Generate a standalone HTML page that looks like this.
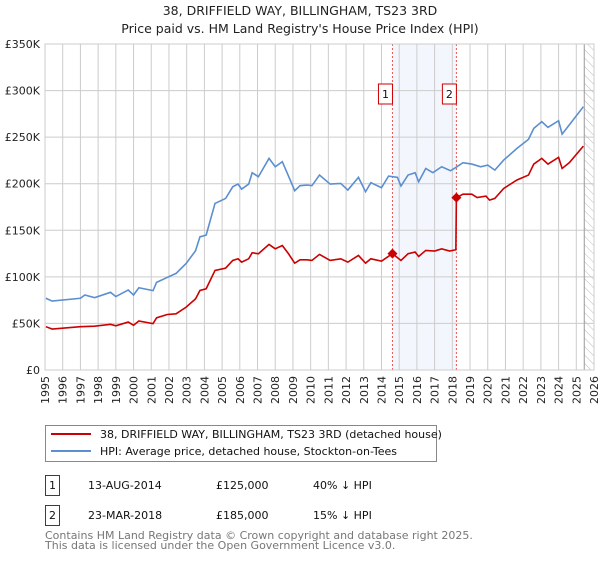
<!DOCTYPE html>
<html><head><meta charset="utf-8"><style>
body{margin:0;width:600px;height:560px;background:#fff;font-family:"DejaVu Sans","Liberation Sans",sans-serif;overflow:hidden}
</style></head><body>
<svg id="c" width="600" height="560" xmlns="http://www.w3.org/2000/svg">
<text x="300" y="15" text-anchor="middle" font-size="12.5" fill="#222">38, DRIFFIELD WAY, BILLINGHAM, TS23 3RD</text>
<text x="300" y="33" text-anchor="middle" font-size="12.5" fill="#222">Price paid vs. HM Land Registry's House Price Index (HPI)</text>
<defs><pattern id="hatch" width="6" height="6" patternUnits="userSpaceOnUse" patternTransform="rotate(-45)"><line x1="0" y1="0" x2="0" y2="6" stroke="#bbb" stroke-width="1"/></pattern></defs>
<g id="plot"></g>
<rect x="45.5" y="425.5" width="391" height="36" fill="#fff" stroke="#888"/>
<line x1="51" y1="434" x2="91" y2="434" stroke="#cc0000" stroke-width="2"/>
<text x="100" y="438" font-size="11" fill="#111">38, DRIFFIELD WAY, BILLINGHAM, TS23 3RD (detached house)</text>
<line x1="51" y1="451" x2="91" y2="451" stroke="#5b8fd0" stroke-width="2"/>
<text x="100" y="455" font-size="11" fill="#111">HPI: Average price, detached house, Stockton-on-Tees</text>
<g font-size="11" fill="#111">
<rect x="45.5" y="475.5" width="14" height="20" fill="#fff" stroke="#cc0000"/>
<text x="52.5" y="489" text-anchor="middle">1</text>
<text x="88" y="489">13-AUG-2014</text>
<text x="216" y="489">£125,000</text>
<text x="313" y="489">40% ↓ HPI</text>
<rect x="45.5" y="505.5" width="14" height="20" fill="#fff" stroke="#cc0000"/>
<text x="52.5" y="519" text-anchor="middle">2</text>
<text x="88" y="519">23-MAR-2018</text>
<text x="216" y="519">£185,000</text>
<text x="313" y="519">15% ↓ HPI</text>
</g>
<text x="45" y="539" font-size="11" fill="#777">Contains HM Land Registry data © Crown copyright and database right 2025.</text>
<text x="45" y="549" font-size="11" fill="#777">This data is licensed under the Open Government Licence v3.0.</text>
</svg>
<script>
const hpiYears=[1995.05,1995.4,1997.0,1997.25,1997.8,1998.7,1999.0,1999.7,2000.0,2000.3,2001.1,2001.3,2001.9,2002.4,2002.97,2003.5,2003.75,2004.1,2004.6,2005.2,2005.6,2005.9,2006.1,2006.5,2006.7,2007.05,2007.65,2008.0,2008.4,2008.75,2009.1,2009.4,2009.8,2010.07,2010.5,2011.1,2011.7,2012.1,2012.7,2013.1,2013.4,2014.0,2014.4,2014.9,2015.1,2015.5,2015.9,2016.1,2016.5,2016.9,2017.4,2017.9,2018.2,2018.6,2019.1,2019.6,2020.0,2020.4,2020.9,2021.65,2022.3,2022.6,2023.05,2023.4,2024.0,2024.2,2024.6,2025.4];
const hpiValues=[77,74,77,80.5,77.7,83.4,78.8,85.9,80.5,88.3,85.2,94.1,99.4,103.7,114.4,128,143,144.8,178.8,184.2,196.7,199.6,194.2,199.6,211.8,207.5,227.2,218.2,223.6,208.2,192.5,197.9,198.6,197.9,209.3,199.6,200.3,193.2,206.8,191.4,201.1,195.7,208.2,206.8,197.5,209.3,211.8,202.1,216.4,211.8,218.2,213.9,217.5,222.5,221.1,218.2,220,214.6,225.4,237.9,247.6,259.4,266.6,260.5,267.6,253.3,263,282.7];
const propYears=[1995.05,1995.4,1997.0,1997.8,1998.7,1999.0,1999.7,2000.0,2000.3,2001.1,2001.3,2001.9,2002.4,2002.97,2003.5,2003.75,2004.1,2004.6,2005.2,2005.6,2005.9,2006.1,2006.5,2006.7,2007.05,2007.65,2008.0,2008.4,2008.75,2009.1,2009.4,2009.8,2010.07,2010.5,2011.1,2011.7,2012.1,2012.7,2013.1,2013.4,2014.0,2014.62,2015.1,2015.5,2015.9,2016.1,2016.5,2017.0,2017.4,2017.85,2018.2,2018.23,2018.6,2019.1,2019.4,2019.9,2020.1,2020.4,2020.9,2021.65,2022.3,2022.6,2023.05,2023.4,2024.0,2024.2,2024.6,2025.4];
const propValues=[46.5,44,46.5,47,49,47.5,51.5,48,52.6,49.8,56,59.6,60.3,67.5,76.4,85.4,87.2,106.9,109.4,117.6,119.4,115.8,119.4,125.9,124.8,134.8,130.1,133.7,124.8,114.7,118.3,118.3,117.6,124.1,117.6,119.4,115.8,123,114.7,119.4,116.9,125,117.6,124.8,126.6,121.9,128.4,127.7,130.1,127.7,129.1,185,188.8,188.8,185.2,186.7,182.4,184.2,194.9,204,209.3,221.1,227.2,221.1,228.3,216.4,222.5,240.4];
const saleYears=[2014.62,2018.23];
const saleValues=[125,185];
const saleLabels=["1","2"];
const yTicks=[0,50,100,150,200,250,300,350];
const yTickLabels=["£0","£50K","£100K","£150K","£200K","£250K","£300K","£350K"];
const xTicks=[1995,1996,1997,1998,1999,2000,2001,2002,2003,2004,2005,2006,2007,2008,2009,2010,2011,2012,2013,2014,2015,2016,2017,2018,2019,2020,2021,2022,2023,2024,2025,2026];
const hatchStart=2025.45;

const L=45,R=594,T=44,B=370;
const x=v=>L+(v-1995)/(2026-1995)*(R-L);
const y=v=>B-v/350*(B-T);
const NS="http://www.w3.org/2000/svg";
const g=document.getElementById('plot');
function mk(t,a){const e=document.createElementNS(NS,t);for(const k in a)e.setAttribute(k,a[k]);g.appendChild(e);return e;}
let e=mk('rect',{x:x(saleYears[0]),y:T,width:x(saleYears[1])-x(saleYears[0]),height:B-T,fill:'#eef3fc',opacity:0.7});


yTicks.forEach((v,i)=>{
 let l=mk('line',{x1:L,x2:R,y1:y(v),y2:y(v),stroke:'#cccccc'});
 
 
 let t=mk('text',{x:L-5,y:y(v)+4,'text-anchor':'end','font-size':11,fill:'#222'});
 t.textContent=yTickLabels[i];
 
 
});
xTicks.forEach(v=>{
 let l=mk('line',{x1:x(v),x2:x(v),y1:T,y2:B,stroke:'#cccccc'});
 
 
 let t=mk('text',{transform:`translate(${x(v)+4},376) rotate(-90)`,'text-anchor':'end','font-size':11,fill:'#222'});
 t.textContent=v;
 
 
});
e=mk('rect',{x:x(hatchStart),y:T,width:R-x(hatchStart),height:B-T,fill:'url(#hatch)'});


e=mk('line',{x1:x(hatchStart),x2:x(hatchStart),y1:T,y2:B,stroke:'#999'});


saleYears.forEach((v,i)=>{
 let l=mk('line',{x1:x(v),x2:x(v),y1:T,y2:B,stroke:'#ee5555','stroke-dasharray':'2,2','stroke-width':1});
 
 
 let r=mk('rect',{x:x(v)-14,y:84,width:14,height:20,fill:'#fff',stroke:'#cc0000'});
 
 
 let t=mk('text',{x:x(v)-7,y:98,'text-anchor':'middle','font-size':11,fill:'#111'});
 t.textContent=saleLabels[i];
 
 
});
mk('rect',{x:L,y:T,width:R-L,height:B-T,fill:'none',stroke:'#cccccc'});
e=mk('polyline',{points:hpiYears.map((v,i)=>x(v)+','+y(hpiValues[i])).join(' '),fill:'none',stroke:'#5b8fd0','stroke-width':1.6});


e=mk('polyline',{points:propYears.map((v,i)=>x(v)+','+y(propValues[i])).join(' '),fill:'none',stroke:'#cc0000','stroke-width':1.6});


saleYears.forEach((v,i)=>{
 let d=mk('path',{d:`M${x(v)} ${y(saleValues[i])-5}l5 5l-5 5l-5 -5z`,fill:'#cc0000'});
 
 
});
</script>
</body></html>
